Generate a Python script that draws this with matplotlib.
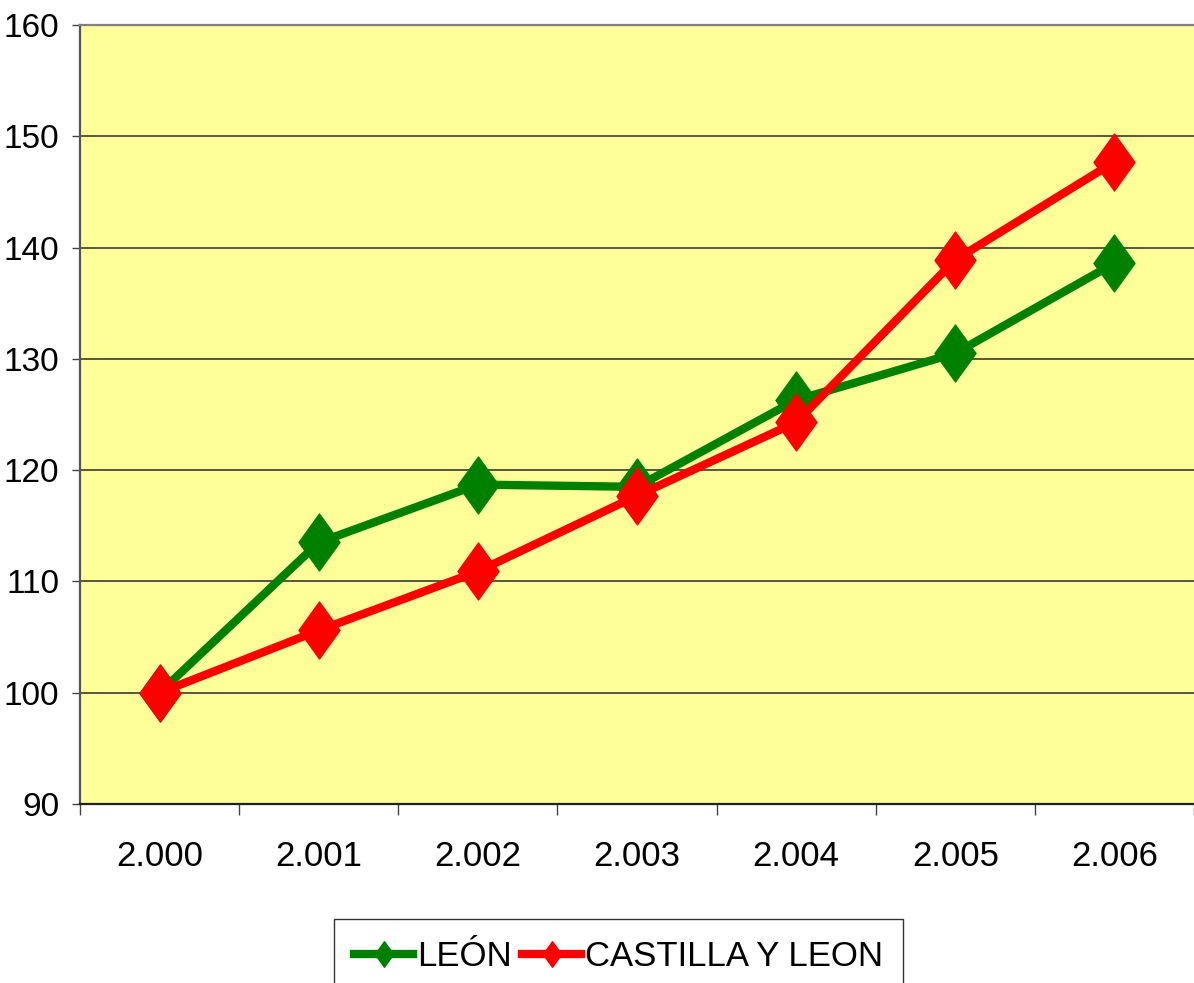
import numpy as np
import matplotlib
matplotlib.use('Agg')
import matplotlib.pyplot as plt
from matplotlib.path import Path
from matplotlib import font_manager

# =================================================================================
# Indice LEÓN vs CASTILLA Y LEON, base 2.000 = 100
# =================================================================================

years = ['2.000', '2.001', '2.002', '2.003', '2.004', '2.005', '2.006']
leon = [100.0, 113.5, 118.7, 118.5, 126.3, 130.5, 138.6]
castilla = [100.0, 105.6, 110.9, 117.7, 124.3, 138.9, 147.7]
y_ticks = [90, 100, 110, 120, 130, 140, 150, 160]

# narrow Arial-like face if there is one, else plain Liberation Sans
installed = {f.name for f in font_manager.fontManager.ttflist}
narrow = 'Liberation Sans Narrow' in installed
plt.rcParams['font.family'] = (['Liberation Sans Narrow'] if narrow else []) + ['Liberation Sans', 'DejaVu Sans']
fsize = 30 if narrow else 25
ysize = 30 if narrow else 24

# diamond a bit wider than matplotlib's thin 'd'
diamond = Path([(0, 1), (0.72, 0), (0, -1), (-0.72, 0), (0, 1)],
               [Path.MOVETO, Path.LINETO, Path.LINETO, Path.LINETO, Path.CLOSEPOLY])

fig = plt.figure(figsize=(11.94, 9.83), dpi=100)
ax = fig.add_axes([80/1194, 1 - 804/983, 1 - 80/1194, (804 - 25)/983])
ax.set_facecolor('#FFFF99')

x = np.arange(len(years))
ax.plot(x, leon, '-', color='#008000', lw=6, marker=diamond, ms=41, label='LEÓN', zorder=3)
ax.plot(x, castilla, '-', color='#FF0000', lw=6, marker=diamond, ms=41,
        label='CASTILLA Y LEON', zorder=4)

ax.set_xlim(-0.5, len(years) - 0.5)
ax.set_ylim(90, 160)
ax.set_yticks(y_ticks)
ax.set_yticklabels([str(v) for v in y_ticks])
ax.yaxis.grid(True, color='#2a2a2a', lw=1.1)
ax.set_axisbelow(True)

ax.set_xticks(x)
ax.set_xticklabels(years)
ax.set_xticks(np.arange(len(years) + 1) - 0.5, minor=True)
ax.tick_params(axis='x', which='major', length=0, pad=26, labelsize=fsize)
ax.tick_params(axis='x', which='minor', length=8, width=1, color='#444444', direction='out')
ax.tick_params(axis='y', length=6, width=1, color='#444444', pad=9, labelsize=ysize)

ax.spines['top'].set_color('#808080')
ax.spines['top'].set_linewidth(1.6)
ax.spines['right'].set_visible(False)
ax.spines['left'].set_color('#555555')
ax.spines['left'].set_linewidth(1.6)
ax.spines['bottom'].set_color('#222222')
ax.spines['bottom'].set_linewidth(1.6)

leg = fig.legend(loc='upper center', bbox_to_anchor=(0.518, 1 - 919/983), ncol=2,
                 fontsize=fsize, markerscale=0.45, handlelength=1.7, handletextpad=0.1,
                 columnspacing=0.3, borderpad=0.6, borderaxespad=0, frameon=True,
                 fancybox=False)
leg.get_frame().set_edgecolor('black')
leg.get_frame().set_linewidth(1)

plt.savefig('out.png', dpi=100)
